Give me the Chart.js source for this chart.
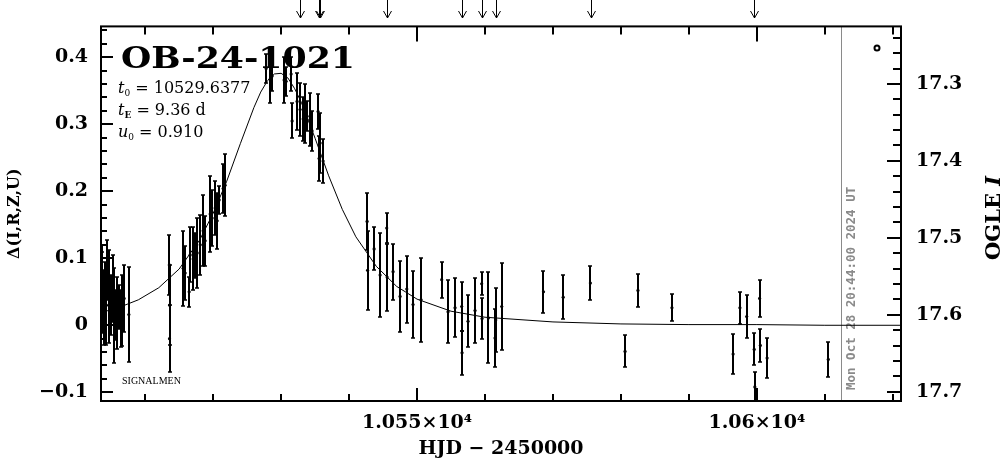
<!DOCTYPE html>
<html>
<head>
<meta charset="utf-8">
<script src="https://cdn.jsdelivr.net/npm/chart.js@4.4.1/dist/chart.umd.min.js"></script>
<style>
  html, body { margin: 0; padding: 0; background: #fff; }
  #lc { display: block; }
</style>
</head>
<body>
<canvas id="lc" width="1004" height="459"></canvas>
<script>
// OGLE light curve points: HJD-2450000, delta mag, error
const hjd = [
  10503.60, 10503.68, 10503.82, 10503.97, 10504.10, 10504.30, 10504.40, 10504.70, 10505.00, 10505.20, 10505.40, 10505.70, 10505.90, 10506.20, 10506.50, 10506.60, 10506.90, 10507.60,
  10513.55, 10513.60, 10513.58,
  10515.59, 10515.88, 10516.47, 10516.62, 10517.06, 10517.35, 10517.65, 10518.10, 10518.53, 10518.82, 10519.56, 10519.85, 10520.30, 10520.59, 10520.88, 10521.47, 10521.76,
  10527.79, 10528.38, 10528.68, 10530.44, 10530.74, 10531.47, 10531.62, 10532.35, 10532.79, 10533.24, 10533.53, 10533.82, 10534.26, 10534.56, 10535.44, 10535.59, 10535.74, 10536.18,
  10542.65, 10542.72, 10543.68, 10544.56, 10545.54, 10545.59, 10546.47, 10547.50, 10548.49, 10549.41, 10550.59, 10553.63, 10554.56, 10555.59, 10556.57, 10556.62, 10557.50, 10558.53, 10559.51, 10559.56, 10560.49, 10561.47, 10561.57, 10562.46,
  10568.6, 10571.5, 10575.5, 10580.6, 10582.5, 10587.5, 10596.5, 10597.5, 10598.5, 10599.6, 10599.7, 10600.4, 10600.5, 10601.5, 10610.5
];
const delta = [
  0.070, 0.051, 0.035, 0.015, 0.051, 0.030, 0.082, 0.043, 0.030, 0.055, 0.015, 0.015, 0.018, 0.027, 0.010, 0.022, 0.040, 0.016,
  0.090, 0.030, -0.020,
  0.085, 0.078, 0.050, 0.105, 0.099, 0.104, 0.108, 0.120, 0.141, 0.126, 0.166, 0.160, 0.175, 0.156, 0.187, 0.204, 0.209,
  0.383, 0.367, 0.372, 0.366, 0.364, 0.375, 0.305, 0.334, 0.322, 0.308, 0.316, 0.312, 0.307, 0.290, 0.319, 0.249, 0.272, 0.245,
  0.155, 0.082, 0.114, 0.075, 0.145, 0.072, 0.080, 0.043, 0.054, 0.031, 0.038, 0.068, 0.020, 0.026, 0.028, -0.041, 0.006, 0.022, 0.062, 0.010, 0.011, -0.019, 0.008, 0.028,
  0.050, 0.042, 0.063, -0.039, 0.052, 0.026, -0.043, 0.026, 0.013, -0.036, -0.092, 0.040, -0.030, -0.049, -0.051
];
const err = [
  0.050, 0.058, 0.047, 0.045, 0.043, 0.060, 0.045, 0.069, 0.045, 0.050, 0.071, 0.037, 0.054, 0.033, 0.042, 0.053, 0.050, 0.071,
  0.045, 0.060, 0.050,
  0.056, 0.041, 0.022, 0.041, 0.047, 0.034, 0.052, 0.045, 0.053, 0.037, 0.057, 0.042, 0.040, 0.042, 0.021, 0.037, 0.046,
  0.022, 0.035, 0.022, 0.035, 0.022, 0.026, 0.026, 0.042, 0.039, 0.033, 0.044, 0.022, 0.039, 0.030, 0.026, 0.033, 0.045, 0.033,
  0.042, 0.059, 0.032, 0.063, 0.022, 0.050, 0.042, 0.053, 0.050, 0.050, 0.063, 0.027, 0.047, 0.044, 0.036, 0.033, 0.039, 0.048, 0.017, 0.030, 0.068, 0.043, 0.048, 0.065,
  0.031, 0.033, 0.025, 0.024, 0.025, 0.020, 0.030, 0.024, 0.032, 0.024, 0.022, 0.027, 0.025, 0.030, 0.026
];

// model curve
const modelT = [10503.5, 10506, 10509, 10512, 10515, 10518, 10520, 10522, 10524, 10526, 10527, 10528, 10529, 10530, 10531, 10532, 10533, 10535, 10537, 10539, 10541, 10544, 10547, 10550, 10555, 10560, 10570, 10580, 10590, 10600, 10610, 10621.2];
const modelD = [0.019, 0.026, 0.038, 0.056, 0.084, 0.127, 0.167, 0.215, 0.271, 0.325, 0.348, 0.365, 0.375, 0.376, 0.369, 0.353, 0.332, 0.279, 0.223, 0.173, 0.132, 0.088, 0.058, 0.039, 0.021, 0.012, 0.005, 0.002, 0.001, 0.001, 0.000, 0.000];

// arrows on top edge, "now" line
const arrowT = [10532.84, 10535.54, 10535.74, 10545.63, 10556.57, 10559.51, 10561.57, 10575.54, 10599.56];
const nowT = 10612.4;
const nowText = 'Mon Oct 28 20:44:00 2024 UT';

const xMajor = [10550, 10600];
const xMajorLabels = ['1.055×10⁴', '1.06×10⁴'];
const leftTicks = [-0.1, 0, 0.1, 0.2, 0.3, 0.4];
const leftLabels = ['−0.1', '0', '0.1', '0.2', '0.3', '0.4'];
const rightTicks = [17.3, 17.4, 17.5, 17.6, 17.7];
const rightLabels = ['17.3', '17.4', '17.5', '17.6', '17.7'];

const params = [['t', '0', ' = 10529.6377'], ['t', 'E', ' = 9.36 d'], ['u', '0', ' = 0.910']];

const SERIF = '"DejaVu Serif", "Liberation Serif", serif';
const tickFont = { family: SERIF, size: 19, weight: 'bold' };

function findLabel(list, labels, v) {
    for (let i = 0; i < list.length; i++) {
        if (Math.abs(list[i] - v) < 1e-6) return labels[i];
    }
    return '';
}

function isMajor(v, step) {
    const r = v / step;
    return Math.abs(r - Math.round(r)) < 1e-6;
}

const overlay = {
    id: 'overlay',
    beforeDatasetsDraw(chart) {
        const ctx = chart.ctx;
        const a = chart.chartArea;
        const px = chart.scales.x.getPixelForValue(nowT);
        ctx.save();
        ctx.strokeStyle = '#8a8a8a';
        ctx.lineWidth = 1;
        ctx.beginPath();
        ctx.moveTo(Math.round(px) + 0.5, a.top);
        ctx.lineTo(Math.round(px) + 0.5, a.bottom);
        ctx.stroke();

        ctx.translate(Math.round(px) + 11, a.bottom - 11);
        ctx.rotate(-Math.PI / 2);
        ctx.fillStyle = '#8a8a8a';
        ctx.font = 'bold 12.5px "DejaVu Sans Mono", monospace';
        ctx.textBaseline = 'middle';
        ctx.textAlign = 'left';
        ctx.fillText(nowText, 0, 0);
        ctx.restore();
    },
    afterDatasetsDraw(chart) {
        const ctx = chart.ctx;
        const a = chart.chartArea;
        const xs = chart.scales.x;
        const ys = chart.scales.y;
        const ms = chart.scales.mag;

        // error bars
        ctx.save();
        ctx.beginPath();
        ctx.rect(a.left, a.top, a.right - a.left, a.bottom - a.top);
        ctx.clip();
        ctx.strokeStyle = '#000';
        for (let i = 0; i < hjd.length; i++) {
            const px = Math.round(xs.getPixelForValue(hjd[i]));
            const y1 = Math.round(ys.getPixelForValue(delta[i] - err[i]));
            const y2 = Math.round(ys.getPixelForValue(delta[i] + err[i]));
            ctx.lineWidth = 2;
            ctx.beginPath();
            ctx.moveTo(px, y1);
            ctx.lineTo(px, y2);
            ctx.stroke();
            ctx.lineWidth = 1.5;
            ctx.beginPath();
            ctx.moveTo(px - 2, y1);
            ctx.lineTo(px + 2, y1);
            ctx.moveTo(px - 2, y2);
            ctx.lineTo(px + 2, y2);
            ctx.stroke();
        }
        ctx.restore();

        // frame and inward ticks
        ctx.save();
        ctx.strokeStyle = '#000';
        ctx.lineWidth = 2;
        ctx.strokeRect(a.left, a.top, a.right - a.left, a.bottom - a.top);
        ctx.beginPath();
        xs.ticks.forEach(t => {
            const p = Math.round(xs.getPixelForValue(t.value));
            const big = isMajor(t.value, 50);
            ctx.moveTo(p, a.bottom);
            ctx.lineTo(p, a.bottom - (big ? 13 : 7));
            ctx.moveTo(p, a.top);
            ctx.lineTo(p, a.top + (big ? 15 : 8));
        });
        ys.ticks.forEach(t => {
            const p = Math.round(ys.getPixelForValue(t.value));
            ctx.moveTo(a.left, p);
            ctx.lineTo(a.left + (isMajor(t.value, 0.1) ? 12 : 6), p);
        });
        ms.ticks.forEach(t => {
            const p = Math.round(ms.getPixelForValue(t.value));
            ctx.moveTo(a.right, p);
            ctx.lineTo(a.right - (isMajor(t.value, 0.1) ? 14 : 8), p);
        });
        ctx.stroke();

        // arrows above the frame
        ctx.lineWidth = 1;
        ctx.beginPath();
        arrowT.forEach(t => {
            const p = Math.round(xs.getPixelForValue(t)) + 0.5;
            ctx.moveTo(p, 0);
            ctx.lineTo(p, 18);
            ctx.moveTo(p - 4, 11);
            ctx.lineTo(p, 18);
            ctx.lineTo(p + 4, 11);
        });
        ctx.stroke();

        // little circle, top right
        ctx.lineWidth = 2;
        ctx.beginPath();
        ctx.arc(877, 48, 2.5, 0, Math.PI * 2);
        ctx.stroke();

        // event name
        ctx.fillStyle = '#000';
        ctx.textBaseline = 'alphabetic';
        ctx.textAlign = 'left';
        ctx.font = 'bold 30px ' + SERIF;
        const name = 'OB-24-1021';
        const w = ctx.measureText(name).width;
        ctx.save();
        ctx.translate(121, 68);
        ctx.scale(234 / w, 1);
        ctx.fillText(name, 0, 0);
        ctx.restore();

        // fit parameters
        params.forEach((p, i) => {
            const y = 93 + i * 22;
            let x = 118;
            ctx.font = 'italic 16px ' + SERIF;
            ctx.fillText(p[0], x, y);
            x += ctx.measureText(p[0]).width;
            ctx.font = (p[1] === 'E' ? 'bold ' : '') + '9px ' + SERIF;
            ctx.fillText(p[1], x, y + 3);
            x += ctx.measureText(p[1]).width;
            ctx.font = '16px ' + SERIF;
            ctx.fillText(p[2], x, y);
        });

        ctx.font = '10px "Liberation Serif", serif';
        ctx.fillText('SIGNALMEN', 122, 384);

        // right axis title, reads upward
        ctx.save();
        ctx.translate(995, 218);
        ctx.rotate(-Math.PI / 2);
        ctx.textBaseline = 'middle';
        const t1 = 'OGLE ';
        ctx.font = 'bold 21px ' + SERIF;
        const w1 = ctx.measureText(t1).width;
        ctx.font = 'bold italic 21px ' + SERIF;
        const w2 = ctx.measureText('I').width;
        ctx.font = 'bold 21px ' + SERIF;
        ctx.fillText(t1, -(w1 + w2) / 2, 0);
        ctx.font = 'bold italic 21px ' + SERIF;
        ctx.fillText('I', -(w1 + w2) / 2 + w1, 0);
        ctx.restore();

        ctx.restore();
    }
};

const ctx = document.getElementById('lc').getContext('2d');
new Chart(ctx, {
    type: 'scatter',
    data: {
        datasets: [{
            type: 'line',
            data: modelT.map((t, i) => ({ x: t, y: modelD[i] })),
            borderColor: '#000',
            borderWidth: 1,
            pointRadius: 0,
            fill: false,
            tension: 0,
            yAxisID: 'y',
        }, {
            data: hjd.map((t, i) => ({ x: t, y: delta[i] })),
            pointRadius: 1.6,
            pointBackgroundColor: '#000',
            pointBorderWidth: 0,
            yAxisID: 'y',
        }],
    },
    options: {
        responsive: false,
        animation: false,
        events: [],
        layout: { padding: { top: 25, left: 0, right: 0, bottom: 0 } },
        plugins: { legend: { display: false }, tooltip: { enabled: false } },
        scales: {
            x: {
                type: 'linear',
                position: 'bottom',
                min: 10503.5,
                max: 10621.2,
                grid: { display: false, drawTicks: false },
                border: { display: false },
                ticks: {
                    stepSize: 10,
                    includeBounds: false,
                    autoSkip: false,
                    maxRotation: 0,
                    padding: 11,
                    color: '#000',
                    font: tickFont,
                    callback: v => findLabel(xMajor, xMajorLabels, v),
                },
                title: {
                    display: true,
                    text: 'HJD − 2450000',
                    color: '#000',
                    font: { family: SERIF, size: 19, weight: 'bold', lineHeight: 1 },
                    padding: 0,
                },
                afterFit: s => { s.height = 58; },
            },
            y: {
                type: 'linear',
                position: 'left',
                min: -0.113,
                max: 0.446,
                grid: { display: false, drawTicks: false },
                border: { display: false },
                ticks: {
                    stepSize: 0.02,
                    includeBounds: false,
                    autoSkip: false,
                    padding: 13,
                    color: '#000',
                    font: tickFont,
                    callback: v => findLabel(leftTicks, leftLabels, v),
                },
                title: {
                    display: true,
                    text: 'Δ(I,R,Z,U)',
                    color: '#000',
                    font: { family: SERIF, size: 16, weight: 'bold', lineHeight: 1 },
                    padding: { top: 7 },
                },
                afterFit: s => { s.width = 101; },
            },
            mag: {
                type: 'linear',
                position: 'right',
                reverse: true,
                min: 17.2253,
                max: 17.712,
                grid: { display: false, drawTicks: false },
                border: { display: false },
                ticks: {
                    stepSize: 0.02,
                    includeBounds: false,
                    autoSkip: false,
                    padding: 15,
                    color: '#000',
                    font: tickFont,
                    callback: v => findLabel(rightTicks, rightLabels, v),
                },
                afterFit: s => { s.width = 103; },
            },
        },
    },
    plugins: [overlay],
});
</script>
</body>
</html>
